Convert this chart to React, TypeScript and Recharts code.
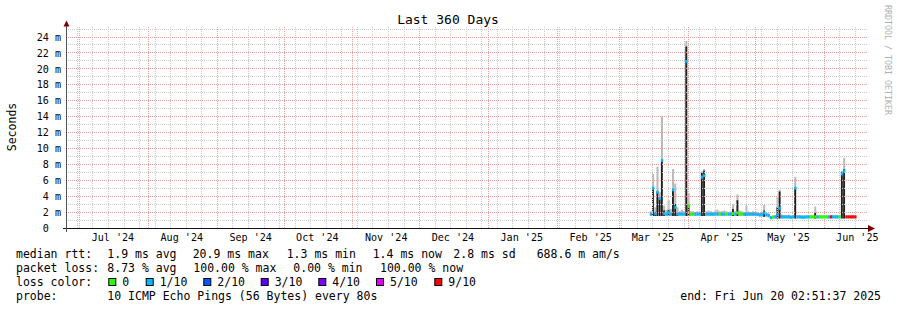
import { Bar, ComposedChart, ReferenceLine, Scatter, XAxis, YAxis } from "recharts";

const END_MS = Date.UTC(2025, 5, 20, 2, 51, 37);
const SPAN_DAYS = 360;
const START_MS = END_MS - SPAN_DAYS * 86400000;
const DAY_MS = 86400000;

const MONTHS = [
  [2024, 7], [2024, 8], [2024, 9], [2024, 10], [2024, 11], [2024, 12],
  [2025, 1], [2025, 2], [2025, 3], [2025, 4], [2025, 5], [2025, 6],
];
const MONTH_LABELS = [
  "Jul '24", "Aug '24", "Sep '24", "Oct '24", "Nov '24", "Dec '24",
  "Jan '25", "Feb '25", "Mar '25", "Apr '25", "May '25", "Jun '25",
];
const FIRST_SUNDAY = [2024, 6, 30];

const Y_LABELS = [0, 2, 4, 6, 8, 10, 12, 14, 16, 18, 20, 22, 24];
const Y_MINOR = [1, 3, 5, 7, 9, 11, 13, 15, 17, 19, 21, 23, 25];

// day offsets from the graph start (Jun 25 2024)
const DAYS = [
  263, 264, 265, 266, 267, 268, 269, 270, 271, 272,
  273, 274, 275, 276, 277, 278, 279, 280, 281, 282,
  283, 284, 285, 286, 287, 288, 289, 290, 291, 292,
  293, 294, 295, 296, 297, 298, 299, 300, 301, 302,
  303, 304, 305, 306, 307, 308, 309, 310, 311, 312,
  313, 314, 315, 316, 317, 318, 319, 320, 321, 322,
  323, 324, 325, 326, 327, 328, 329, 330, 331, 332,
  333, 334, 335, 336, 337, 338, 339, 340, 341, 342,
  343, 344, 345, 346, 347, 348, 349, 350, 351, 352,
  353, 354, 355,
];

// median rtt in ms
const MEDIAN = [
  1.75, 5.0, 1.8, 4.5, 3.7, 8.5, 1.8, 1.75, 2.0, 1.75,
  4.8, 2.6, 1.75, 1.75, 1.75, 1.75, 20.9, 2.8, 1.75, 1.75,
  1.75, 1.75, 1.75, 6.4, 6.6, 1.75, 1.75, 1.75, 1.75, 1.75,
  1.75, 1.75, 1.75, 1.75, 1.75, 1.75, 1.75, 1.8, 1.75, 1.9,
  1.75, 1.75, 1.75, 1.75, 1.75, 1.75, 1.75, 1.75, 1.7, 1.65,
  1.7, 1.9, 1.65, 1.6, 1.3, 1.35, 1.4, 1.7, 2.5, 1.4,
  1.4, 1.4, 1.4, 1.35, 1.4, 5.0, 1.4, 1.4, 1.35, 1.35,
  1.4, 1.4, 1.4, 1.4, 1.4, 1.4, 1.4, 1.4, 1.4, 1.4,
  1.4, 1.4, 1.4, 1.4, 1.4, 1.4, 6.8, 7.2, 1.4, 1.4,
  1.4, 1.4, 1.4,
];

// lost pings out of 10
const LOSS = [
  1, 1, 1, 1, 1, 1, 1, 1, 1, 1,
  1, 1, 1, 1, 1, 1, 1, 0, 0, 0,
  1, 1, 1, 1, 1, 1, 1, 1, 1, 1,
  1, 0, 1, 1, 0, 1, 1, 0, 1, 0,
  0, 0, 1, 1, 1, 1, 1, 1, 1, 1,
  1, 1, 1, 1, 1, 0, 1, 1, 1, 1,
  1, 1, 1, 1, 1, 1, 1, 1, 1, 1,
  1, 1, 0, 0, 0, 1, 0, 0, 0, 0,
  1, 9, 1, 1, 1, 0, 1, 1, 9, 9,
  9, 9, 9,
];

const SMOKE_LO = [
  1.5, 1.5, 1.5, 1.5, 1.5, 1.5, 1.5, 1.5, 1.5, 1.5,
  1.5, 1.5, 1.5, 1.5, 1.5, 1.5, 1.5, 1.5, 1.5, 1.5,
  1.5, 1.5, 1.5, 1.5, 1.5, 1.5, 1.5, 1.5, 1.5, 1.5,
  1.5, 1.5, 1.5, 1.5, 1.5, 1.5, 1.5, 1.5, 1.5, 1.5,
  1.5, 1.5, 1.5, 1.5, 1.5, 1.5, 1.5, 1.5, 1.5, 1.4,
  1.4, 1.4, 1.4, 1.3, 1.1, 1.2, 1.2, 1.2, 1.2, 1.2,
  1.2, 1.2, 1.2, 1.2, 1.2, 1.2, 1.2, 1.2, 1.2, 1.2,
  1.2, 1.2, 1.2, 1.2, 1.2, 1.2, 1.2, 1.2, 1.2, 1.2,
  1.2, 1.2, 1.2, 1.2, 1.2, 1.2, 1.2, 1.2, 1.2, 1.2,
  1.2, 1.2, 1.2,
];

const SMOKE_DARK = [
  null, 5.1, 2.0, 4.6, 3.8, 8.6, 2.2, null, 2.3, null,
  4.9, 3.0, 1.9, null, null, null, 22.8, 3.0, null, null,
  null, null, null, 6.9, 7.2, null, null, null, null, null,
  null, null, null, null, null, null, null, 2.4, null, 3.5,
  null, null, null, 1.9, null, null, null, null, null, null,
  null, 2.2, null, null, null, null, null, 2.6, 4.6, null,
  null, null, null, null, null, 5.1, null, null, null, null,
  null, null, null, null, 1.9, null, null, null, null, null,
  null, null, null, null, null, null, 7.0, 7.4, null, null,
  null, null, null,
];

const SMOKE_HI = [
  2.1, 6.8, 2.6, 7.7, 4.5, 14.0, 2.8, 2.3, 3.5, 2.4,
  7.4, 5.6, 2.6, 2.1, 2.3, 2.1, 23.5, 4.4, 2.1, 2.1,
  2.0, 2.1, 2.0, 7.1, 7.4, 2.1, 2.2, 2.1, 2.0, 2.2,
  2.3, 2.1, 2.1, 2.2, 2.1, 2.0, 2.1, 3.0, 2.1, 4.2,
  2.2, 2.1, 2.0, 2.8, 2.1, 2.0, 2.1, 2.0, 2.0, 1.9,
  2.0, 2.9, 1.9, 1.8, 1.5, 1.6, 1.6, 3.9, 4.8, 1.7,
  1.6, 1.6, 1.7, 1.6, 1.6, 6.4, 1.6, 1.6, 1.6, 1.6,
  1.6, 1.6, 1.6, 1.6, 2.7, 1.6, 1.6, 1.6, 1.6, 1.6,
  1.6, 1.6, 1.6, 1.6, 1.6, 1.6, 7.2, 8.8, 1.6, 1.6,
  1.6, 1.6, 1.6,
];

const LOSS_LEVELS = [0, 1, 2, 3, 4, 5, 9];
const LOSS_NAMES = ["0", "1/10", "2/10", "3/10", "4/10", "5/10", "9/10"];
const LOSS_COLORS = ["#26ff00", "#00b8ff", "#0059ff", "#5e00ff", "#7e00ff", "#dd00ff", "#ff0000"];

const RTT_LEGEND = ["median rtt:", "1.9 ms avg", "20.9 ms max", "1.3 ms min", "1.4 ms now", "2.8 ms sd", "688.6 m am/s"];
const LOSS_LEGEND = ["packet loss:", "8.73 % avg", "100.00 % max", "0.00 % min", "100.00 % now"];
const PROBE_LEGEND = ["probe:", "10 ICMP Echo Pings (56 Bytes) every 80s"];
const END_TEXT = "end: Fri Jun 20 02:51:37 2025";

const W = 897;
const H = 310;
const MONO = "'DejaVu Sans Mono', monospace";
const MINOR_GRID = "#c8c8c8";
const MAJOR_GRID = "#eaa0a0";

const dayOf = (y: number, m: number, d: number) => (Date.UTC(y, m - 1, d) - START_MS) / DAY_MS;

const monthStarts = MONTHS.map(([y, m]) => dayOf(y, m, 1));
const monthTicks = MONTHS.map(([y, m]) => dayOf(y, m, 16));
const weekLines: number[] = [];
for (let d = dayOf(FIRST_SUNDAY[0], FIRST_SUNDAY[1], FIRST_SUNDAY[2]); d < SPAN_DAYS; d += 7) weekLines.push(d);

const data = DAYS.map((day, i) => ({
  day,
  median: MEDIAN[i],
  loss: LOSS[i],
  smoke: [SMOKE_LO[i], SMOKE_HI[i]],
  dark: SMOKE_DARK[i] == null ? null : [SMOKE_LO[i], SMOKE_DARK[i]],
}));

const lossColor = (l: number) => LOSS_COLORS[Math.max(0, LOSS_LEVELS.indexOf(l))];

// snap grid lines to whole pixels so the dots stay crisp
const gridLine = (color: string) => (p: any) => {
  const vertical = Math.abs(p.x1 - p.x2) < 0.01;
  const x1 = vertical ? Math.floor(p.x1) + 0.5 : Math.floor(p.x1);
  const y1 = vertical ? Math.floor(Math.min(p.y1, p.y2)) : Math.floor(p.y1) + 0.5;
  const x2 = vertical ? x1 : Math.ceil(p.x2);
  const y2 = vertical ? Math.ceil(Math.max(p.y1, p.y2)) : y1;
  return <line x1={x1} y1={y1} x2={x2} y2={y2} stroke={color} strokeWidth={1} strokeDasharray="1 1" />;
};

const XTick = (p: any) => {
  const i = monthTicks.indexOf(p.payload.value);
  return (
    <text x={p.x} y={241} textAnchor="middle" fontFamily={MONO} fontSize={10.1} fill="#000">
      {MONTH_LABELS[i]}
    </text>
  );
};

const YTick = (p: any) => {
  const v = p.payload.value;
  return (
    <text x={v === 0 ? 48.8 : 61} y={p.y + 3.7} textAnchor="end" fontFamily={MONO} fontSize={10.1} fill="#000">
      {v === 0 ? "0" : `${v} m`}
    </text>
  );
};

const RTT_X = [16, 107.3, 192.7, 286.7, 372.7, 453.3, 536.7];
const LOSS_X = [16, 107.3, 193.3, 293.3, 380];
const SWATCH_X = [108.3, 145.7, 203.3, 260.7, 318.3, 376, 434.3];

export default function App() {
  return (
    <div style={{ position: "absolute", left: 0, top: 0, width: W, height: H, background: "#fff" }}>
      <ComposedChart width={W} height={H} data={data} margin={{ top: 27, right: 30.5, bottom: 62, left: 6.5 }}>
        <XAxis
          xAxisId="main"
          dataKey="day"
          type="number"
          domain={[0, SPAN_DAYS]}
          allowDataOverflow
          ticks={monthTicks}
          tick={<XTick />}
          tickLine={false}
          axisLine={false}
          tickSize={0}
          tickMargin={0}
          height={20}
          interval={0}
        />
        <XAxis xAxisId="smoke" dataKey="day" type="number" domain={[0, SPAN_DAYS]} allowDataOverflow hide />
        <XAxis xAxisId="dark" dataKey="day" type="number" domain={[0, SPAN_DAYS]} allowDataOverflow hide />
        <YAxis
          type="number"
          domain={[0, 25.26]}
          allowDataOverflow
          ticks={Y_LABELS}
          tick={<YTick />}
          tickLine={false}
          axisLine={false}
          tickSize={0}
          tickMargin={0}
          width={60}
          interval={0}
        />
        {Y_MINOR.map((v) => (
          <ReferenceLine key={`ym${v}`} xAxisId="main" y={v} shape={gridLine(MINOR_GRID)} />
        ))}
        {weekLines.map((d) => (
          <ReferenceLine key={`xw${d}`} xAxisId="main" x={d} shape={gridLine(MINOR_GRID)} />
        ))}
        {Y_LABELS.filter((v) => v > 0).map((v) => (
          <ReferenceLine key={`yM${v}`} xAxisId="main" y={v} shape={gridLine(MAJOR_GRID)} />
        ))}
        {monthStarts.map((d) => (
          <ReferenceLine key={`xm${d}`} xAxisId="main" x={d} shape={gridLine(MAJOR_GRID)} />
        ))}
        <Bar xAxisId="smoke" dataKey="smoke" fill="#b8b8b8" barSize={2.3} isAnimationActive={false} />
        <Bar xAxisId="dark" dataKey="dark" fill="#1e1e1e" barSize={1.8} isAnimationActive={false} />
        <Scatter
          xAxisId="main"
          dataKey="median"
          isAnimationActive={false}
          shape={(p: any) => (
            <rect x={p.cx - 1.15} y={p.cy - 1.5} width={2.3} height={3} fill={lossColor(p.payload.loss)} />
          )}
        />
      </ComposedChart>

      <svg width={W} height={H} style={{ position: "absolute", left: 0, top: 0, pointerEvents: "none" }} fontFamily={MONO}>
        <text x={448} y={23.5} textAnchor="middle" fontSize={13} fill="#000">Last 360 Days</text>
        <text x={15.5} y={127} textAnchor="middle" fontSize={11.5} fill="#000" transform="rotate(-90 15.5 127)">Seconds</text>
        <text x={884.5} y={5} fontSize={8.3} fill="#b0b0b0" transform="rotate(90 884.5 5)">RRDTOOL / TOBI OETIKER</text>

        <line x1={63} y1={228.5} x2={869} y2={228.5} stroke="#111" strokeWidth={1} />
        <line x1={66.5} y1={232} x2={66.5} y2={25} stroke="#555" strokeWidth={1} />
        <polygon points="868,225 875,228.5 868,232" fill="#7f0000" />
        <polygon points="63.5,26.5 66.5,20.5 69.5,26.5" fill="#7f0000" />

        {RTT_LEGEND.map((t, i) => (
          <text key={`r${i}`} x={RTT_X[i]} y={258} fontSize={11.5} fill="#000">{t}</text>
        ))}
        {LOSS_LEGEND.map((t, i) => (
          <text key={`l${i}`} x={LOSS_X[i]} y={272} fontSize={11.5} fill="#000">{t}</text>
        ))}
        <text x={16} y={286} fontSize={11.5} fill="#000">loss color:</text>
        {LOSS_NAMES.map((t, i) => (
          <g key={`s${i}`}>
            <rect x={SWATCH_X[i] + 0.5} y={278.5} width={7} height={7} fill={LOSS_COLORS[i]} stroke="#000" strokeWidth={1} />
            <text x={SWATCH_X[i] + 14} y={286} fontSize={11.5} fill="#000">{t}</text>
          </g>
        ))}
        {PROBE_LEGEND.map((t, i) => (
          <text key={`p${i}`} x={i === 0 ? 16 : 107.3} y={300} fontSize={11.5} fill="#000">{t}</text>
        ))}
        <text x={881} y={300} textAnchor="end" fontSize={11.5} fill="#000">{END_TEXT}</text>
      </svg>
    </div>
  );
}
